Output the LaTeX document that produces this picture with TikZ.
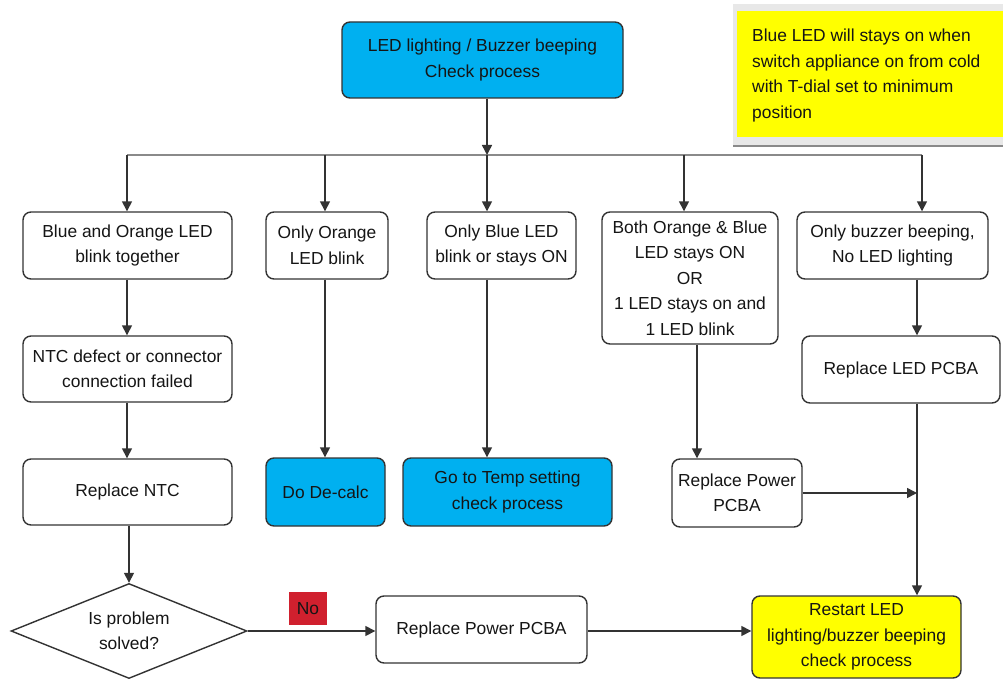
\documentclass[tikz,border=0pt]{standalone}
\usepackage{fontspec}
\setmainfont{Liberation Sans}
\usetikzlibrary{arrows.meta,shapes.geometric}
\definecolor{cyanfill}{HTML}{00B0F0}
\definecolor{noteyellow}{HTML}{FFFF00}
\definecolor{nored}{HTML}{D0202E}
\definecolor{linegray}{HTML}{333333}
\definecolor{busgray}{HTML}{8A8A8A}
\definecolor{txt}{HTML}{151515}
\begin{document}
\begin{tikzpicture}[x=1pt,y=-1pt,
  every node/.style={font=\fontsize{17.4}{25.5}\selectfont, text=txt, inner sep=0pt},
  box/.style={draw=linegray, line width=1.4pt, rounded corners=8pt, align=center, fill=white},
  bluebox/.style={box, fill=cyanfill},
  yellowbox/.style={box, fill=noteyellow},
  arr/.style={draw=linegray, line width=1.5pt, -{Triangle[length=10pt,width=10pt]}},
  bus/.style={draw=busgray, line width=2.2pt}]
\useasboundingbox (0,0) rectangle (1003,679);

% note box
\fill[gray!18] (733,4) rectangle (1003,147);
\draw[busgray, line width=2pt] (733,146) -- (1003,146);
\fill[noteyellow] (737,11) rectangle (1003,137);
\node[anchor=west, align=left] (note) at (752,75.5) {Blue LED will stays on when\\switch appliance on from cold\\with T-dial set to minimum\\position};

% nodes
\node[bluebox, minimum width=281pt, minimum height=76pt] (top) at (482.5,60) {LED lighting / Buzzer beeping\\Check process};

\node[box, minimum width=209pt, minimum height=67pt] (b1) at (127.5,245.5) {Blue and Orange LED\\blink together};
\node[box, minimum width=122pt, minimum height=67pt] (b2) at (327,245.5) {Only Orange\\LED blink};
\node[box, minimum width=149pt, minimum height=67pt] (b3) at (501.5,245.5) {Only Blue LED\\blink or stays ON};
\node[box, minimum width=176pt, minimum height=132pt] (b4) at (690,278) {Both Orange \& Blue\\LED stays ON\\OR\\1 LED stays on and\\1 LED blink};
\node[box, minimum width=191pt, minimum height=67pt] (b5) at (892.5,245.5) {Only buzzer beeping,\\No LED lighting};

\node[box, minimum width=209pt, minimum height=66pt] (c1) at (127.5,369) {NTC defect or connector\\connection failed};
\node[box, minimum width=198pt, minimum height=67pt] (c5) at (901,369.5) {Replace LED PCBA};

\node[box, minimum width=209pt, minimum height=66pt] (d1) at (127.5,492) {Replace NTC};
\node[bluebox, minimum width=119pt, minimum height=68pt] (d2) at (325.5,492) {Do De-calc};
\node[bluebox, minimum width=209pt, minimum height=68pt] (d3) at (507.5,492) {Go to Temp setting\\check process};
\node[box, minimum width=130pt, minimum height=68pt] (d4) at (737,493) {Replace Power\\PCBA};

\node[diamond, aspect=2.48, draw=linegray, line width=1.4pt, minimum width=236pt, minimum height=95pt, align=center, fill=white] (dia) at (129,631) {Is problem\\solved?};
\node[fill=nored, minimum width=38pt, minimum height=33pt] (no) at (308,608.5) {No};
\node[box, minimum width=211pt, minimum height=67pt] (e2) at (481.5,629.5) {Replace Power PCBA};
\node[yellowbox, minimum width=209pt, minimum height=82pt] (e3) at (856.5,637) {Restart LED\\lighting/buzzer beeping\\check process};

% bus
\coordinate (j1) at (127,155);
\coordinate (j2) at (325,155);
\coordinate (j3) at (487,155);
\coordinate (j4) at (684,155);
\coordinate (j5) at (922,155);
\draw[bus] (j1) -- (j5);
\draw[arr] (top.south -| j3) -- (j3);
\draw[arr] (j1) -- (j1 |- b1.north);
\draw[arr] (j2) -- (j2 |- b2.north);
\draw[arr] (j3) -- (j3 |- b3.north);
\draw[arr] (j4) -- (j4 |- b4.north);
\draw[arr] (j5) -- (j5 |- b5.north);

% column 1
\draw[arr] (b1.south -| j1) -- (c1.north -| j1);
\draw[arr] (c1.south -| j1) -- (d1.north -| j1);
\draw[arr] (d1.south -| dia.north) -- (dia.north);
% column 2,3
\draw[arr] (b2.south -| j2) -- (d2.north -| j2);
\draw[arr] (b3.south -| j3) -- (d3.north -| j3);
% column 4
\coordinate (x4) at (697,0);
\draw[arr] (b4.south -| x4) -- (d4.north -| x4);
% column 5
\coordinate (x5) at (917,0);
\draw[arr] (b5.south -| x5) -- (c5.north -| x5);
\draw[arr] (c5.south -| x5) -- (e3.north -| x5);
\draw[arr] (d4.east) -- (d4.east -| x5);
% bottom row
\draw[arr] (dia.east) -- (dia.east -| e2.west);
\draw[arr] (e2.east |- dia.east) -- (dia.east -| e3.west);
\end{tikzpicture}
\end{document}
